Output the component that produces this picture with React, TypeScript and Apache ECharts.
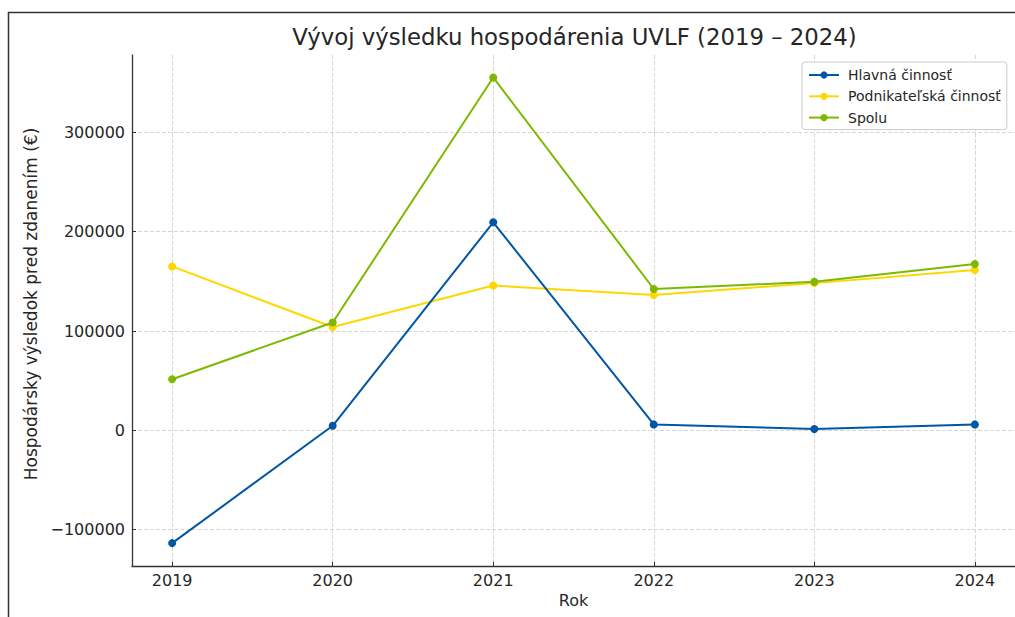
import React, { useEffect, useRef } from "react";
import * as echarts from "echarts";

const years = [2019, 2020, 2021, 2022, 2023, 2024];
const hlavna = [-113500, 4600, 209400, 6000, 1300, 6000];
const podnikatelska = [165000, 104000, 145800, 136300, 148200, 161500];
const spolu = [51500, 108600, 355200, 142300, 149500, 167500];
const yTicks = [-100000, 0, 100000, 200000, 300000];

const seriesNames = ["Hlavná činnosť", "Podnikateľská činnosť", "Spolu"];
const seriesColors = ["#0055a5", "#ffd700", "#7cb900"];

const FONT = "DejaVu Sans";
const TEXT = "#262626";

export default function App() {
  const ref = useRef<HTMLDivElement>(null);
  useEffect(() => {
    if (!ref.current) return;
    const chart = echarts.init(ref.current, undefined, { renderer: "svg" });
    const dataSets = [hlavna, podnikatelska, spolu];
    chart.setOption({
      animation: false,
      backgroundColor: "#ffffff",
      title: {
        text: "Vývoj výsledku hospodárenia UVLF (2019 – 2024)",
        left: 569.5,
        top: 20,
        textAlign: "center",
        textStyle: { fontFamily: FONT, fontSize: 22.8, fontWeight: "normal", color: TEXT },
      },
      graphic: [
        {
          type: "polyline",
          shape: { points: [[8.5, 700], [8.5, 12.5], [1015, 12.5]] },
          style: { stroke: "#333333", lineWidth: 1.5, fill: "none" },
          silent: true,
        },
      ],
      legend: {
        orient: "vertical",
        left: 802,
        top: 62,
        padding: [6, 6, 5, 6],
        itemGap: 7.3,
        itemWidth: 30,
        itemHeight: 9,
        backgroundColor: "#ffffff",
        borderColor: "#cccccc",
        borderWidth: 1,
        borderRadius: 3,
        textStyle: { fontFamily: FONT, fontSize: 14, color: TEXT, padding: [0, 0, 0, 4] },
        data: seriesNames,
      },
      grid: { left: 132, right: 0, top: 55, bottom: 51, containLabel: false },
      xAxis: {
        type: "value",
        min: 2018.75,
        max: 2024.25,
        name: "Rok",
        nameLocation: "middle",
        nameGap: 26,
        nameTextStyle: { fontFamily: FONT, fontSize: 16, color: TEXT },
        axisLine: { show: true, onZero: false, lineStyle: { color: "#333333", width: 1.3 } },
        axisTick: { show: true, inside: true, length: 4, customValues: years, lineStyle: { color: "#333333" } },
        axisLabel: {
          customValues: years,
          margin: 6,
          fontFamily: FONT,
          fontSize: 16,
          color: TEXT,
          formatter: (v: number) => String(v),
        },
        splitLine: { show: true, lineStyle: { color: "#d6d6d6", type: "dashed", width: 1 } },
      },
      yAxis: {
        type: "value",
        min: -136500,
        max: 377800,
        name: "Hospodársky výsledok pred zdanením (€)",
        nameLocation: "middle",
        nameGap: 90,
        nameTextStyle: { fontFamily: FONT, fontSize: 17, color: TEXT, padding: [0, 0, 0, 13] },
        axisLine: { show: true, onZero: false, lineStyle: { color: "#333333", width: 1.3 } },
        axisTick: { show: true, inside: true, length: 4, customValues: yTicks, lineStyle: { color: "#333333" } },
        axisLabel: {
          customValues: yTicks,
          margin: 7,
          fontFamily: FONT,
          fontSize: 16,
          color: TEXT,
          formatter: (v: number) => (v < 0 ? "\u2212" + String(-v) : String(v)),
        },
        splitLine: { show: true, lineStyle: { color: "#d6d6d6", type: "dashed", width: 1 } },
      },
      series: seriesNames.map((name, i) => ({
        name,
        type: "line",
        data: years.map((y, j) => [y, dataSets[i][j]]),
        symbol: "circle",
        symbolSize: 8,
        lineStyle: { color: seriesColors[i], width: 2 },
        itemStyle: { color: seriesColors[i] },
        z: 2 + (i === 1 ? 0 : i === 2 ? 1 : 2),
      })),
    });
    return () => chart.dispose();
  }, []);
  return (
    <div
      ref={ref}
      style={{ position: "absolute", left: 0, top: 0, width: 1015, height: 617 }}
    />
  );
}
